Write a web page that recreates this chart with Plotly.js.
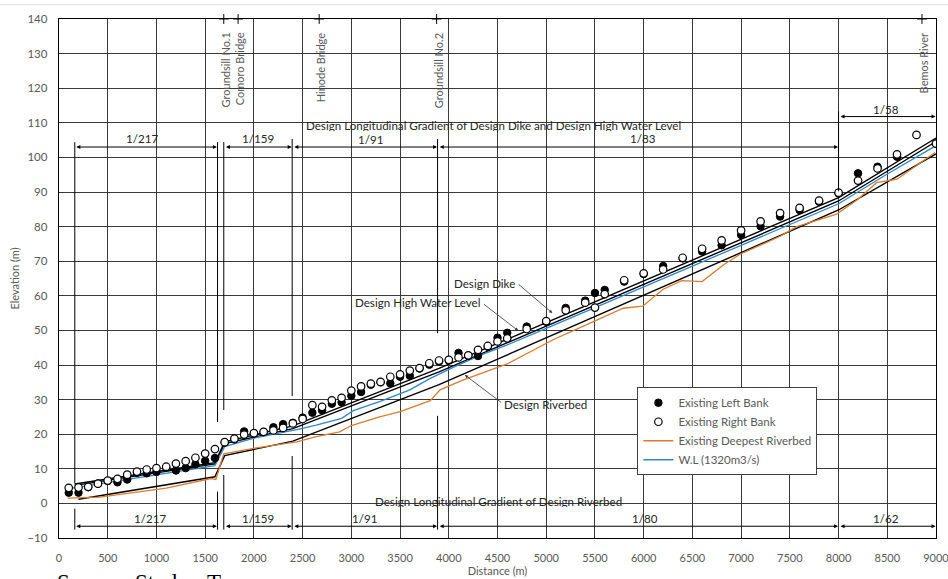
<!DOCTYPE html>
<html><head><meta charset="utf-8">
<script src="https://cdn.plot.ly/plotly-3.0.1.min.js"></script>
<style>html,body{margin:0;padding:0;background:#fff;}#chart{width:948px;height:579px;}</style>
</head><body><div id="chart"></div>
<script>
// ---------- data ----------
const distBank = [100,200,300,400,500,600,700,800,900,1000,
  1100,1200,1300,1400,1500,1600,1700,1800,1900,2000,
  2100,2200,2300,2400,2500,2600,2700,2800,2900,3000,
  3100,3200,3300,3400,3500,3600,3700,3800,3900,4000,
  4100,4200,4300,4400,4500,4600,
  4800,5000,5200,5400,5500,5600,
  5800,6000,6200,6400,6600,6800,7000,7200,7400,7600,7800,8000,8200,8400,8600,8800,9000];
const leftBank = [3.1,3.1,4.7,5.7,6.5,6.1,6.9,8.8,8.7,9.1,
  10.4,9.5,10.2,11.3,12.3,13.1,17.6,18.5,20.8,20.2,
  20.6,22.0,22.9,23.3,24.8,26.2,26.9,28.8,29.2,31.1,
  32.2,34.3,35.0,34.7,36.6,36.9,39.0,40.1,41.0,41.3,
  43.5,42.7,42.6,45.3,47.9,49.3,
  51.1,52.5,56.5,58.6,60.8,61.7,
  64.1,66.3,68.6,70.8,72.8,74.6,77.6,80.1,82.9,84.8,87.2,89.6,95.4,97.3,100.2,null,104.0];
const rightBank = [4.5,4.6,4.8,5.7,6.6,7.1,8.3,9.2,9.8,10.2,
  10.6,11.5,12.2,13.2,14.4,15.7,17.7,18.7,19.9,20.3,
  20.7,21.1,21.8,23.1,24.4,28.4,27.9,29.8,30.5,32.6,
  33.8,34.6,35.1,36.6,37.3,38.4,39.1,40.5,41.3,41.5,
  42.2,42.8,44.4,45.5,46.8,47.7,
  50.4,52.7,55.8,58.0,56.6,60.5,
  64.5,66.5,67.6,71.0,73.6,76.0,78.9,81.5,83.9,85.4,87.5,89.8,93.3,96.8,100.9,106.5,104.0];

const deepestX = [90,420,1100,1560,1610,1690,2010,2440,2640,2880,3000,3290,3500,3670,3810,3910,4150,4600,5070,5450,5790,5990,6200,6390,6600,6820,6990,7400,7570,7980,8190,8390,8600,8990];
const deepestY = [1.5,1.8,4.4,7.2,6.9,14.3,16.0,17.8,19.3,20.7,22.5,25.0,26.5,28.2,29.7,32.8,35.7,40.3,47.3,52.1,56.4,57.0,61.9,64.4,64.1,69.0,72.0,77.2,80.0,83.6,87.7,92.7,93.7,101.4];

const wlX = [100,1600,1700,2000,2440,2640,2900,3020,3290,3600,3800,4050,4320,4600,5000,5480,5760,6000,6500,7000,7500,8000,8500,9000];
const wlY = [4.3,10.9,16.4,18.9,21.3,22.6,24.6,26.8,29.4,32.8,36.0,39.4,42.8,45.8,50.6,56.3,59.8,62.6,68.6,74.6,80.6,86.6,95.2,103.4];

const designX = [160,1600,1700,2400,3900,8000,9000];
const dikeY = [5.6,11.8,17.8,22.4,39.0,88.4,105.6];
const hwlY  = [5.2,11.4,17.3,21.6,38.0,87.4,104.6];
const bedX  = [200,1600,1700,2400,3900,8000,9000];
const bedY  = [1.2,7.7,13.8,18.0,34.3,84.8,101.0];

const landmarkX = [1691,1838,2670,3875,8856];
const landmarkNames = ['Groundsill No.1','Comoro Bridge','Hinode Bridge','Groundsill No.2','Bemos River'];

const gradTopLabels = ['1/217','1/159','1/91','1/83','1/58'];
const gradBotLabels = ['1/217','1/159','1/91','1/80','1/62'];

const sourceWords = ['Source:','Study','Team'];

// ---------- traces ----------
const lineBlack = {color:'#000', width:1.4};
const traces = [
  {x:designX, y:dikeY, mode:'lines', line:lineBlack, showlegend:false, hoverinfo:'skip'},
  {x:designX, y:hwlY, mode:'lines', line:lineBlack, showlegend:false, hoverinfo:'skip'},
  {x:bedX, y:bedY, mode:'lines', line:lineBlack, showlegend:false, hoverinfo:'skip'},
  {x:deepestX, y:deepestY, mode:'lines', name:'Existing Deepest Riverbed', line:{color:'#E07B2F', width:1.3}, legendrank:3},
  {x:wlX, y:wlY, mode:'lines', name:'W.L (1320m3/s)', line:{color:'#2F86CF', width:1.3}, legendrank:4},
  {x:distBank, y:leftBank, mode:'markers', name:'Existing Left Bank', marker:{symbol:'circle', size:7.5, color:'#000', line:{color:'#000', width:1}}, legendrank:1},
  {x:distBank, y:rightBank, mode:'markers', name:'Existing Right Bank', marker:{symbol:'circle', size:7.5, color:'#fff', line:{color:'#000', width:1.2}}, legendrank:2},
  {x:landmarkX, y:landmarkX.map(()=>140), mode:'markers', showlegend:false, hoverinfo:'skip', cliponaxis:false,
   marker:{symbol:'cross-thin', size:7, line:{color:'#000', width:1}}}
];

// ---------- annotations & shapes ----------
const FAM = 'Lato, "Liberation Sans", sans-serif';
const txtFont = {family:FAM, size:11.6, color:'#262626'};
const annotations = [];
const shapes = [];

// landmark labels
const lmTextX = [1705,1848,2684,3889,8868];
lmTextX.forEach((x,i)=>{
  annotations.push({x:x, y:136.6, xref:'x', yref:'y', text:landmarkNames[i], showarrow:false,
    textangle:-90, xanchor:'center', yanchor:'top', font:{family:FAM, size:11, color:'#595959'}});
});

// dimension arrows
function dimArrow(x0, x1, y){
  annotations.push({x:x1, y:y, ax:x0, ay:y, xref:'x', yref:'y', axref:'x', ayref:'y', text:'',
    showarrow:true, arrowside:'end+start', arrowhead:2, arrowsize:0.8, arrowwidth:1, arrowcolor:'#000'});
}
const segs = [[162,1620],[1698,2388],[2400,3880],[3892,7995],[8005,8995]];
const topY = [103.0,103.0,103.0,103.0,111.8];
segs.forEach((s,i)=>dimArrow(s[0], s[1], topY[i]));
segs.forEach(s=>dimArrow(s[0], s[1], -6.6));

// gradient labels
const topLabX = [856,2044,3198,5998,8486];
const topLabY = [105.4,105.4,105.1,105.4,113.9];
topLabX.forEach((x,i)=>annotations.push({x:x, y:topLabY[i], xref:'x', yref:'y', text:gradTopLabels[i], showarrow:false, font:txtFont, height:11}));
const botLabX = [933,2044,3139,6014,8486];
botLabX.forEach((x,i)=>annotations.push({x:x, y:-4.3, xref:'x', yref:'y', text:gradBotLabels[i], showarrow:false, font:txtFont, height:11}));

annotations.push({x:4454, y:109.2, xref:'x', yref:'y', text:'Design Longitudinal Gradient of Design Dike and Design High Water Level', showarrow:false, font:txtFont, height:11});
annotations.push({x:4513, y:0.5, xref:'x', yref:'y', text:'Design Longitudinal Gradient of Design Riverbed', showarrow:false, font:txtFont, height:11});

// callouts
function callout(text, tx, ty, anchor, lx0, ly0, hx, hy){
  annotations.push({x:tx, y:ty, xref:'x', yref:'y', text:text, showarrow:false, xanchor:anchor, font:txtFont});
  annotations.push({x:hx, y:hy, ax:lx0, ay:ly0, xref:'x', yref:'y', axref:'x', ayref:'y', text:'',
    showarrow:true, arrowhead:2, arrowsize:0.8, arrowwidth:0.8, arrowcolor:'#333'});
}
callout('Design Dike', 4700, 63.7, 'right', 4700, 63.7, 5063, 55.0);
callout('Design High Water Level', 4345, 58.0, 'right', 4345, 57.9, 4713, 49.9);
callout('Design Riverbed', 4550, 28.6, 'left', 4555, 28.8, 4166, 37.1);

// caption under the chart, cut off by the bottom edge as in the reference
const srcX = [-0.0049,0.0841,0.1662];
sourceWords.forEach((w,i)=>annotations.push({x:srcX[i], y:-0.057, xref:'paper', yref:'paper', text:w, showarrow:false,
  xanchor:'left', yanchor:'top', font:{family:'"Liberation Serif", serif', size:23, color:'#000'}}));

// extension lines
const extTop = [[162,104.4,5.8],[1627,104.4,23.5],[1691,104.4,27.0],[2393,105.3,31.0],[3885,105.3,49.2],[8000,113.3,90.2]];
const extBot = [[162,-1.5,-7.6],[1627,3.4,-7.6],[1691,8.2,-7.6],[2393,13.7,-7.6],[3885,25.3,-7.6]];
extTop.concat(extBot).forEach(e=>shapes.push({type:'line', xref:'x', yref:'y', x0:e[0], x1:e[0], y0:e[1], y1:e[2], line:{color:'#000', width:1}}));

// thin top border of the chart area
shapes.push({type:'line', xref:'paper', yref:'paper', x0:-0.0677, x1:1.014, y0:1.0276, y1:1.0276, line:{color:'#e3e3e3', width:1}});

const tickFont = {family:FAM, size:11, color:'#595959'};
const layout = {
  width:948, height:579,
  margin:{l:59, r:12, t:19, b:41},
  paper_bgcolor:'#fff', plot_bgcolor:'#fff',
  showlegend:true,
  legend:{x:0.6595, y:0.2905, xanchor:'left', yanchor:'top', bgcolor:'#fff', bordercolor:'#404040', borderwidth:1,
    font:{family:FAM, size:11.5, color:'#595959'}, tracegroupgap:0},
  xaxis:{range:[0,9000], dtick:500, tick0:0, showgrid:true, gridcolor:'#3a3a3a', gridwidth:1, zeroline:false,
    showline:true, mirror:true, linecolor:'#000', linewidth:1.3, ticks:'', tickfont:tickFont, ticklabelstandoff:9,
    ticklabeloverflow:'allow',
    title:{text:'Distance (m)', font:{family:FAM, size:11, color:'#595959'}, standoff:4}},
  yaxis:{range:[-10,140], dtick:10, tick0:0, showgrid:true, gridcolor:'#3a3a3a', gridwidth:1, zeroline:false,
    showline:true, mirror:true, linecolor:'#000', linewidth:1.3, ticks:'', tickfont:{family:FAM, size:11.5, color:'#595959'}, ticklabelstandoff:8,
    title:{text:'Elevation (m)', font:{family:FAM, size:11, color:'#595959'}, standoff:5}},
  annotations:annotations,
  shapes:shapes
};
Plotly.newPlot('chart', traces, layout, {displayModeBar:false, staticPlot:true});
</script></body></html>
